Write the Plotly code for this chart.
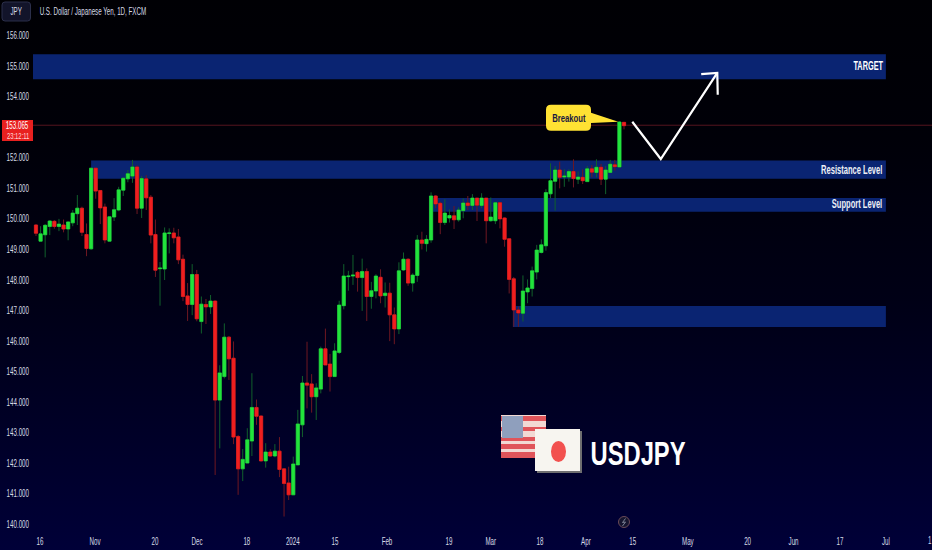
import plotly.graph_objects as go

# ---- data (prices in JPY) ----
opens = [149.80,149.27,149.48,149.75,149.92,149.75,149.80,149.67,149.87,150.17,150.35,149.49,149.02,151.66,150.93,150.39,
149.27,150.06,150.29,150.94,151.31,151.40,151.70,150.35,151.31,150.71,149.49,148.37,148.36,149.52,149.54,149.41,148.68,
147.48,147.20,148.18,146.64,147.20,147.12,147.31,144.07,144.84,146.13,145.44,142.88,141.82,142.01,142.73,143.83,143.55,
142.08,142.37,142.24,142.40,141.82,141.36,140.97,141.95,143.26,144.63,144.60,144.18,144.43,145.75,145.25,144.84,145.63,
147.16,148.11,148.13,148.25,148.08,148.28,147.46,147.64,148.09,147.49,147.57,146.86,146.40,148.33,148.68,147.90,148.15,
149.31,149.19,149.31,150.75,150.51,149.88,150.03,150.10,149.97,150.27,150.52,150.44,150.68,150.44,150.68,149.94,149.94,
150.53,150.03,149.35,148.04,147.02,146.91,147.61,147.72,148.26,148.90,149.12,150.82,151.23,151.60,151.37,151.37,151.55,
151.30,151.36,151.22,151.64,151.52,151.69,151.30,151.52,151.77,151.70,153.16]
highs = [149.83,149.76,149.83,149.96,149.96,150.00,149.98,149.92,150.29,150.78,150.40,149.85,151.66,151.66,150.94,150.50,
150.08,150.68,151.05,151.36,151.60,151.93,151.75,151.40,151.43,150.78,149.98,148.59,149.72,149.69,149.71,149.67,148.83,
147.90,148.52,148.33,147.46,147.38,147.51,147.33,145.21,146.58,146.17,145.99,142.93,142.47,143.15,144.95,144.09,143.57,
142.66,142.46,142.63,142.86,141.84,141.89,142.22,143.75,144.86,145.98,144.92,144.62,145.82,146.41,145.58,145.93,147.32,
148.52,148.30,148.82,148.30,148.70,148.38,147.94,148.19,148.35,147.92,147.91,147.10,148.58,148.90,148.71,148.22,149.47,
149.58,149.47,150.87,150.78,150.56,150.64,150.31,150.42,150.38,150.67,150.75,150.81,150.68,150.84,150.68,150.70,150.56,
150.55,150.05,149.35,148.10,147.13,148.15,148.02,148.44,149.15,149.33,150.97,151.82,151.73,151.87,151.62,151.62,151.95,
151.55,151.62,151.73,151.76,151.95,151.80,151.73,151.93,151.93,153.20,153.17]
lows = [149.44,149.27,148.74,149.47,149.68,149.60,149.56,149.30,149.76,149.80,149.44,148.78,148.99,150.66,149.83,149.20,
149.27,149.93,150.25,150.75,151.20,151.18,150.16,150.03,150.29,149.20,148.10,147.16,148.00,148.87,149.20,148.52,147.31,
146.66,146.85,146.65,146.25,146.56,146.89,141.62,142.49,144.78,144.73,142.63,140.97,141.42,142.01,142.24,143.26,142.06,
141.86,142.22,142.20,141.55,140.26,140.80,140.97,141.95,142.86,143.80,143.66,143.42,144.29,145.22,144.35,144.84,145.58,
147.04,147.65,147.84,147.62,146.99,146.66,147.06,147.40,147.24,147.10,146.00,145.90,146.23,148.30,147.81,147.62,147.94,
149.00,148.93,149.22,150.35,149.50,149.80,149.88,149.67,149.91,150.02,150.29,150.29,149.93,150.35,149.20,149.91,149.83,
149.69,149.09,147.56,146.47,146.47,146.64,147.24,147.46,148.02,148.87,148.96,150.67,150.27,151.00,151.05,151.22,151.03,
151.14,151.14,151.22,151.36,151.36,151.11,150.81,151.52,151.58,151.70,152.93]
closes = [149.53,149.51,149.79,149.93,149.75,149.83,149.67,149.90,150.19,150.35,149.56,149.03,151.66,150.91,150.36,149.31,
150.07,150.30,150.95,151.33,151.48,151.70,150.35,151.32,150.69,149.47,148.32,148.39,149.54,149.54,149.38,148.66,147.46,
147.20,148.18,146.73,147.21,147.12,147.31,144.07,144.96,146.13,145.42,142.86,141.82,142.13,142.77,143.83,143.54,142.08,
142.37,142.24,142.40,141.80,141.34,140.97,141.98,143.29,144.63,144.56,144.18,144.47,145.75,145.22,144.84,145.68,147.18,
148.13,148.13,148.16,148.08,148.28,147.46,147.65,148.13,147.48,147.57,146.86,146.40,148.30,148.68,147.90,148.16,149.31,
149.20,149.33,150.75,150.49,149.88,150.19,150.11,149.97,150.29,150.52,150.44,150.68,150.45,150.68,149.94,150.06,150.53,
150.00,149.33,148.02,147.02,146.92,147.64,147.74,148.30,148.98,149.15,150.86,151.25,151.60,151.36,151.40,151.55,151.32,
151.37,151.25,151.64,151.53,151.69,151.30,151.60,151.79,151.71,153.17,153.05]

tick_positions = [0.87,12.84,25.9,35.05,45.9,55.9,65.1,76.4,89.9,99,109.7,119.7,129.9,141.9,154.9,164.9,175,185]
tick_labels = ["16","Nov","20","Dec","18","2024","15","Feb","19","Mar","18","Apr","15","May","20","Jun","17","Jul"]
price_ticks = [156,155,154,152,151,150,149,148,147,146,145,144,143,142,141,140]

last_price = 153.065
band_tops = [155.39, 151.91, 150.68, 147.15]
band_bottoms = [154.57, 151.31, 150.23, 146.46]
band_starts = [-0.65, 12, 86.4, 103.8]
band_end = 185

arrow_x = [129.8, 136.0, 148.3]
arrow_y = [153.18, 151.96, 154.78]
arrow_head_x = [144.8, 148.3, 148.4]
arrow_head_y = [154.74, 154.78, 154.06]

GREEN, RED, WICK_G, WICK_R = "#22e33c", "#ef1f1f", "#10602c", "#6e1722"
BAND = "#0a2472"
W, H, ML, MB = 932, 550, 33, 22
X_MIN, X_MAX = -0.65, 195.04
Y_MIN, Y_MAX = 139.885, 157.163
FONT = "Liberation Sans"

def px(x):
    return (x - ML) / (W - ML)

def py(y):
    return 1 - y / (H - MB)

idx = list(range(len(opens)))
fig = go.Figure()
fig.add_trace(go.Candlestick(x=idx, open=opens, high=highs, low=lows, close=closes, whiskerwidth=0,
    increasing=dict(line=dict(color=WICK_G, width=1), fillcolor=WICK_G),
    decreasing=dict(line=dict(color=WICK_R, width=1), fillcolor=WICK_R), showlegend=False, hoverinfo="skip"))
fig.add_trace(go.Candlestick(x=idx, open=opens, close=closes,
    high=[max(o, c) for o, c in zip(opens, closes)], low=[min(o, c) for o, c in zip(opens, closes)], whiskerwidth=0,
    increasing=dict(line=dict(color=GREEN, width=0.5), fillcolor=GREEN),
    decreasing=dict(line=dict(color=RED, width=0.5), fillcolor=RED), showlegend=False))
for xs, ys in ((arrow_x, arrow_y), (arrow_head_x, arrow_head_y)):
    fig.add_trace(go.Scatter(x=xs, y=ys, mode="lines", line=dict(color="white", width=2.2), showlegend=False, hoverinfo="skip"))

shapes = []
for top, bot, start in zip(band_tops, band_bottoms, band_starts):
    shapes.append(dict(type="rect", xref="x", yref="y", x0=start, x1=band_end, y0=bot, y1=top,
                       fillcolor=BAND, line_width=0, layer="below"))
shapes.append(dict(type="line", xref="x", yref="y", x0=X_MIN, x1=X_MAX, y0=last_price, y1=last_price,
                   line=dict(color="#55141f", width=1), layer="below"))

def rounded(x0, y0, x1, y1, r, extra=""):
    return (f"M {px(x0+r)} {py(y0)} L {px(x1-r)} {py(y0)} Q {px(x1)} {py(y0)} {px(x1)} {py(y0+r)} {extra}"
            f"L {px(x1)} {py(y1-r)} Q {px(x1)} {py(y1)} {px(x1-r)} {py(y1)} L {px(x0+r)} {py(y1)} "
            f"Q {px(x0)} {py(y1)} {px(x0)} {py(y1-r)} L {px(x0)} {py(y0+r)} Q {px(x0)} {py(y0)} {px(x0+r)} {py(y0)} Z")

def deco(path=None, **kw):
    d = dict(xref="paper", yref="paper", line=dict(width=0), layer="above")
    if path:
        d.update(type="path", path=path)
    d.update(kw)
    shapes.append(d)

def box(x0, y0, x1, y1, color, kind="rect"):
    deco(type=kind, x0=px(x0), x1=px(x1), y0=py(y1), y1=py(y0), fillcolor=color)

# JPY box
deco(rounded(2, 2, 30.5, 21, 3), fillcolor="#12142a", line=dict(color="#2b2f4a", width=1))
# price tag
box(2, 120, 33, 141, "#e8201f")
# Breakout callout
pointer = f"L {px(618.3)} {py(121.7)} L {px(591)} {py(123)} "
deco(rounded(546, 104.7, 591, 130.7, 5, extra=f"L {px(591)} {py(112.7)} " + pointer), fillcolor="#ffe233")
# flags
box(501, 415, 546, 458, "#f2d9d4")
for top, bottom in ((416, 421), (427, 431), (437, 441), (444, 449), (452, 458)):
    box(501, top, 546, bottom, "#e0545a")
box(502, 416, 523, 438, "#8f9fbd")
box(537, 431, 582, 473, "#6f6f70")
box(535, 429, 580, 471, "#f7f5f0")
box(551, 441, 566, 462, "#f2514f", kind="circle")
# lightning badge
deco(type="circle", x0=px(618.5), x1=px(629.5), y0=py(527.5), y1=py(516.5), fillcolor="#15152f",
     line=dict(color="#6a4a58", width=1))
deco(f"M {px(625.5)} {py(518.5)} L {px(622.5)} {py(522.5)} L {px(625.5)} {py(522)} L {px(622.5)} {py(526)}",
     line=dict(color="#7b8194", width=1), fillcolor="rgba(0,0,0,0)")

def text(x, y, s, size, color="#d6dae6"):
    return dict(xref="paper", yref="paper", x=px(x), y=py(y), text=s, showarrow=False, xanchor="center", yanchor="middle",
                font=dict(family=FONT, size=size, color=color))

annotations = [
    text(16.2, 11.5, "JPY", 10),
    text(92.5, 11.5, "U.S. Dollar / Japanese Yen, 1D, FXCM", 10),
    text(17.5, 125.5, f"{last_price:.3f}", 10, "white"),
    text(17.5, 135.5, "23:12:11", 9.5, "#ffd6d6"),
    text(568.5, 117.5, "<b>Breakout</b>", 11, "#1a1840"),
    text(868, 66, "<b>TARGET</b>", 12, "white"),
    text(851, 170, "<b>Resistance Level</b>", 12, "#eef0f6"),
    text(856.5, 204, "<b>Support Level</b>", 12, "#eef0f6"),
    text(637.5, 453, "<b>USDJPY</b>", 33, "white"),
    text(929.5, 540.5, "1", 10),
]

fig.update_layout(
    width=W, height=H, margin=dict(l=ML, r=0, t=0, b=MB, pad=0), autosize=False,
    paper_bgcolor="rgba(0,0,0,0)", plot_bgcolor="rgba(0,0,0,0)",
    boxmode="overlay", boxgap=0.3, boxgroupgap=0, showlegend=False, shapes=shapes, annotations=annotations,
    font=dict(family=FONT, size=10, color="#d6dae6"),
    xaxis=dict(range=[X_MIN, X_MAX], tickmode="array", tickvals=tick_positions, ticktext=tick_labels, tickangle=0, automargin=False,
               showgrid=False, zeroline=False, showline=False, ticks="outside", ticklen=4, tickcolor="rgba(0,0,0,0)",
               rangeslider=dict(visible=False), tickfont=dict(size=10, family=FONT, color="#d6dae6")),
    yaxis=dict(range=[Y_MIN, Y_MAX], tickmode="array", tickvals=price_ticks, tickformat=".3f", automargin=False,
               showgrid=False, zeroline=False, showline=False, ticks="outside", ticklen=1, tickcolor="rgba(0,0,0,0)",
               tickfont=dict(size=10, family=FONT, color="#d6dae6")),
)

post = """
document.documentElement.style.margin='0';
document.body.style.margin='0';
document.body.style.background='#000010';
var plotDiv=document.querySelector('.plotly-graph-div');
plotDiv.style.background='linear-gradient(to bottom,#000004 0%,#000008 25%,#000016 55%,#00002c 85%,#000038 100%)';
var narrow={'USDJPY':0.72,'Breakout':0.7,'TARGET':0.61,'Resistance Level':0.63,'Support Level':0.63};
plotDiv.querySelectorAll('text').forEach(function(t){
  var s=t.textContent, f=narrow[s]||0.62;
  var len=t.getComputedTextLength();
  if(len>0){t.setAttribute('textLength',len*f);t.setAttribute('lengthAdjust','spacingAndGlyphs');}
});
"""
fig.write_html("out.html", post_script=post, config=dict(displayModeBar=False))
